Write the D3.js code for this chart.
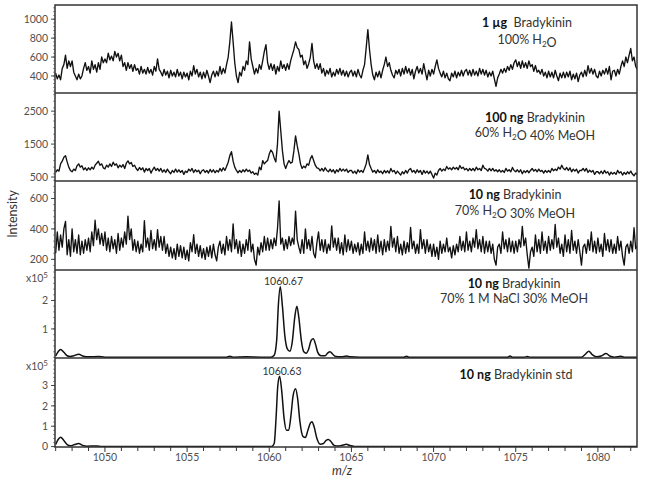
<!DOCTYPE html>
<html>
<head>
<meta charset="utf-8">
<script src="https://cdn.jsdelivr.net/npm/d3@7/dist/d3.min.js"></script>
<style>
  body { margin: 0; background: #fff; }
  svg text { font-family: Lato, "Open Sans", sans-serif; }
</style>
</head>
<body>
<svg id="chart" width="645" height="483"></svg>
<script>
// noisy spectra are sampled on a fixed m/z grid, one row = 1 m/z unit
const mzStart = 1047.0;
const mzStep = 0.1;

// 1 ug, 100% H2O
const water1ug = [
  430, 370, 410, 360, 480, 520, 620, 480, 560, 500,
  560, 440, 400, 360, 420, 370, 400, 480, 540, 460,
  500, 430, 560, 470, 520, 440, 540, 470, 600, 540,
  580, 540, 640, 570, 610, 560, 660, 600, 640, 560,
  620, 500, 540, 460, 540, 480, 520, 450, 520, 460,
  480, 420, 500, 430, 470, 420, 490, 430, 470, 410,
  500, 450, 580, 470, 440, 400, 470, 410, 450, 380,
  460, 400, 440, 390, 470, 400, 440, 370, 440, 390,
  430, 360, 450, 400, 510, 420, 470, 390, 440, 370,
  440, 380, 460, 400, 330, 410, 450, 390, 450, 400,
  500, 420, 480, 430, 520, 600, 760, 970, 760, 540,
  400, 330, 440, 400, 500, 460, 560, 520, 760, 580,
  500, 420, 480, 430, 520, 470, 560, 660, 730, 540,
  470, 530, 460, 520, 420, 500, 450, 560, 480, 520,
  460, 530, 470, 560, 620, 680, 760, 700, 680, 600,
  620, 520, 560, 480, 530, 600, 745, 560, 480, 530,
  470, 530, 430, 480, 400, 460, 420, 480, 390, 440,
  400, 470, 420, 480, 410, 460, 400, 450, 390, 440,
  460, 400, 450, 390, 470, 410, 380, 460, 520, 700,
  890, 680, 520, 410, 360, 440, 390, 450, 380, 460,
  520, 600, 500, 540, 460, 410, 380, 460, 420, 470,
  400, 480, 420, 500, 430, 480, 410, 470, 370, 450,
  500, 430, 480, 420, 530, 440, 360, 460, 400, 470,
  420, 500, 570, 480, 430, 390, 450, 380, 430, 370,
  350, 430, 390, 450, 380, 440, 400, 460, 400, 450,
  470, 410, 460, 400, 470, 410, 450, 400, 480, 420,
  470, 410, 460, 390, 440, 400, 450, 370, 290, 380,
  420, 470, 430, 480, 440, 500, 460, 520, 470, 540,
  570, 500, 550, 480, 560, 490, 540, 480, 560, 500,
  520, 450, 510, 440, 460, 420, 470, 400, 440, 380,
  450, 390, 440, 380, 460, 400, 350, 430, 380, 440,
  380, 440, 390, 450, 360, 420, 370, 430, 340, 410,
  440, 390, 460, 400, 510, 430, 480, 420, 470, 400,
  380, 450, 400, 460, 420, 480, 420, 500, 360, 450,
  460, 400, 470, 420, 500, 560, 500, 600, 540, 620,
  690, 560, 600, 500, 470
];

// 100 ng, 60% H2O 40% MeOH
const meoh100ng = [
  640, 720, 680, 900, 980, 1100, 1150, 960, 800, 700,
  660, 740, 700, 840, 900, 800, 840, 720, 780, 700,
  780, 720, 800, 740, 860, 920, 980, 860, 900, 780,
  750, 860, 800, 900, 820, 950, 860, 900, 780, 860,
  800, 880, 760, 920, 990, 900, 940, 820, 860, 760,
  700, 790, 720, 780, 650, 760, 700, 760, 620, 720,
  800, 700, 760, 680, 760, 650, 720, 640, 740, 660,
  600, 700, 640, 740, 650, 720, 640, 700, 580, 680,
  640, 740, 680, 760, 640, 720, 660, 710, 600, 690,
  720, 640, 700, 620, 730, 650, 720, 630, 700, 650,
  760, 680, 780, 700, 820, 950, 1150, 1270, 980, 800,
  700, 630, 700, 640, 720, 660, 740, 670, 710, 620,
  660, 580, 620, 560, 800, 720, 1000, 900, 960, 1000,
  1200, 1320, 1250, 1080, 960, 1500, 2500, 1900, 1300, 900,
  760, 900, 1000, 920, 950, 1300, 1750, 1450, 1200, 900,
  760, 830, 780, 900, 860, 1050, 1150, 1000, 860, 780,
  760, 690, 760, 680, 780, 700, 660, 740, 660, 720,
  620, 720, 660, 760, 680, 740, 680, 740, 640, 700,
  700, 620, 680, 600, 720, 650, 700, 640, 760, 900,
  1170, 880, 760, 650, 700, 620, 720, 640, 680, 600,
  700, 630, 690, 620, 760, 660, 700, 600, 680, 620,
  560, 660, 600, 700, 620, 720, 760, 650, 700, 620,
  720, 640, 700, 580, 700, 620, 680, 600, 680, 580,
  470, 620, 560, 700, 760, 680, 740, 700, 820, 740,
  780, 720, 800, 740, 790, 720, 850, 760, 800, 720,
  760, 690, 760, 700, 760, 690, 800, 720, 760, 700,
  860, 760, 740, 680, 760, 690, 760, 680, 720, 660,
  720, 650, 700, 640, 760, 680, 720, 660, 790, 700,
  660, 720, 650, 720, 600, 690, 640, 700, 630, 700,
  760, 680, 730, 660, 740, 670, 700, 620, 700, 640,
  700, 640, 760, 690, 740, 700, 800, 740, 860, 760,
  720, 790, 700, 780, 660, 740, 680, 740, 620, 700,
  700, 760, 680, 760, 640, 710, 650, 700, 580, 660,
  660, 600, 680, 600, 700, 620, 660, 560, 650, 590,
  640, 580, 700, 620, 660, 560, 640, 580, 660, 600,
  680, 590, 540, 620, 580
];

// 10 ng, 70% H2O 30% MeOH
const meoh10ng = [
  240, 380, 260, 360, 280, 400, 450, 230, 330, 220,
  400, 250, 330, 240, 360, 230, 320, 240, 330, 260,
  340, 250, 380, 290, 457, 330, 400, 300, 370, 290,
  380, 260, 340, 250, 350, 270, 330, 240, 370, 260,
  340, 280, 380, 300, 484, 330, 400, 260, 330, 250,
  320, 240, 300, 250, 455, 280, 340, 260, 390, 270,
  330, 260, 395, 280, 350, 260, 350, 240, 300, 220,
  280, 210, 270, 200, 300, 220, 290, 210, 280, 200,
  260, 190, 310, 250, 362, 240, 300, 220, 290, 210,
  270, 200, 280, 220, 290, 210, 300, 230, 190, 280,
  320, 240, 300, 230, 350, 260, 330, 250, 433, 270,
  330, 240, 320, 220, 300, 240, 330, 260, 395, 250,
  300, 200, 162, 280, 230, 310, 250, 350, 260, 340,
  260, 330, 270, 340, 290, 400, 584, 300, 340, 260,
  330, 270, 350, 290, 340, 300, 517, 330, 280, 240,
  330, 240, 400, 270, 330, 260, 350, 240, 210, 310,
  380, 260, 330, 250, 330, 240, 300, 260, 420, 280,
  340, 260, 340, 240, 310, 230, 360, 250, 330, 260,
  320, 240, 300, 250, 310, 230, 300, 240, 380, 260,
  320, 250, 340, 260, 330, 240, 360, 250, 320, 230,
  330, 250, 320, 260, 417, 280, 340, 250, 350, 240,
  300, 230, 320, 240, 310, 250, 410, 270, 320, 240,
  300, 240, 395, 270, 330, 240, 330, 250, 300, 220,
  300, 220, 280, 200, 320, 240, 300, 250, 340, 250,
  280, 210, 290, 230, 300, 250, 350, 260, 320, 250,
  380, 260, 320, 250, 340, 280, 395, 270, 330, 250,
  350, 240, 320, 250, 320, 240, 300, 200, 162, 280,
  300, 240, 380, 270, 330, 250, 340, 250, 320, 240,
  320, 250, 330, 280, 417, 290, 340, 230, 142, 250,
  280, 220, 360, 250, 330, 240, 380, 260, 320, 240,
  350, 260, 330, 270, 429, 280, 340, 240, 300, 220,
  360, 250, 330, 240, 390, 260, 320, 240, 330, 250,
  162, 280, 300, 240, 330, 260, 380, 250, 320, 240,
  340, 250, 300, 220, 370, 260, 330, 250, 330, 240,
  300, 240, 350, 260, 320, 220, 162, 280, 300, 240,
  320, 250, 408, 270, 290
];

// 10 ng, 70% 1 M NaCl 30% MeOH  [m/z, intensity x1e5]
const nacl10ng = [
  [1047.0, 0.05], [1047.15, 0.2], [1047.3, 0.28], [1047.5, 0.18], [1047.7, 0.06],
  [1047.9, 0.03], [1048.1, 0.06], [1048.4, 0.11], [1048.7, 0.04], [1049.0, 0.02],
  [1049.6, 0.03], [1050.0, 0.01], [1057.4, 0.01], [1057.6, 0.04], [1057.8, 0.01],
  [1058.6, 0.02], [1059.5, 0.01], [1060.1, 0.01], [1060.3, 0.08], [1060.45, 0.6],
  [1060.55, 1.8], [1060.67, 2.48], [1060.8, 1.8], [1060.95, 0.75], [1061.1, 0.3],
  [1061.25, 0.22], [1061.4, 0.55], [1061.55, 1.4], [1061.68, 1.8], [1061.8, 1.4],
  [1061.95, 0.6], [1062.1, 0.2], [1062.25, 0.15], [1062.4, 0.3], [1062.55, 0.6],
  [1062.68, 0.66], [1062.82, 0.45], [1062.95, 0.18], [1063.15, 0.06], [1063.4, 0.06],
  [1063.55, 0.15], [1063.7, 0.2], [1063.85, 0.12], [1064.05, 0.03], [1064.4, 0.02],
  [1064.7, 0.05], [1064.95, 0.02], [1065.5, 0.01], [1068.2, 0.01], [1068.35, 0.04],
  [1068.5, 0.01], [1074.5, 0.01], [1074.65, 0.05], [1074.8, 0.01], [1075.5, 0.01],
  [1075.7, 0.03], [1075.9, 0.01], [1079.0, 0.01], [1079.25, 0.12], [1079.45, 0.22],
  [1079.65, 0.1], [1079.9, 0.02], [1080.2, 0.05], [1080.5, 0.14], [1080.75, 0.04],
  [1081.0, 0.01], [1081.4, 0.04], [1081.6, 0.01], [1082.4, 0.01]
];

// 10 ng std  [m/z, intensity x1e5]
const std10ng = [
  [1047.0, 0.1], [1047.15, 0.35], [1047.3, 0.46], [1047.5, 0.3], [1047.7, 0.1],
  [1047.9, 0.04], [1048.15, 0.1], [1048.4, 0.15], [1048.65, 0.06], [1048.9, 0.02],
  [1049.5, 0.03], [1049.8, 0.01], [1060.15, 0.01], [1060.3, 0.15], [1060.42, 1.5],
  [1060.52, 3.0], [1060.63, 3.46], [1060.75, 2.8], [1060.9, 1.4], [1061.05, 0.8],
  [1061.18, 0.8], [1061.33, 1.6], [1061.45, 2.5], [1061.6, 2.84], [1061.72, 2.4],
  [1061.87, 1.2], [1062.05, 0.5], [1062.2, 0.45], [1062.35, 0.8], [1062.5, 1.15],
  [1062.6, 1.22], [1062.72, 1.0], [1062.9, 0.4], [1063.1, 0.12], [1063.3, 0.15],
  [1063.45, 0.3], [1063.6, 0.35], [1063.75, 0.25], [1063.95, 0.06], [1064.2, 0.03],
  [1064.5, 0.08], [1064.7, 0.11], [1064.9, 0.05], [1065.2, 0.01], [1082.4, 0.01]
];

const xTicks = [1050, 1055, 1060, 1065, 1070, 1075, 1080];
const yTicks1 = [400, 600, 800, 1000];
const yTicks2 = [500, 1500, 2500];
const yTicks3 = [200, 400, 600];
const yTicks4 = [1, 2];
const yTicks5 = [0, 1, 2, 3];

const peakLabels = ["1060.67", "1060.63"];

const svg = d3.select("#chart");
const left = 55, right = 637;
const panelTops = [5, 93, 181, 270, 358];
const bottom = 447;

const x = d3.scaleLinear().domain([1046.96, 1082.38]).range([left, right]);

function gridPoints(values) {
  return values.map((v, i) => [mzStart + i * mzStep, v]);
}

const panels = [
  { data: gridPoints(water1ug), domain: [220, 1150], ticks: yTicks1, minor: 40, width: 1.35, curve: d3.curveLinear,
    lines: [[{ b: "1 µg", t: "  Bradykinin" }], [{ t: "100% H" }, { sub: "2" }, { t: "O" }]], tx: 527, ty: [27, 43.5] },
  { data: gridPoints(meoh100ng), domain: [380, 3050], ticks: yTicks2, minor: 200, width: 1.35, curve: d3.curveLinear,
    lines: [[{ b: "100 ng", t: " Bradykinin" }], [{ t: "60% H" }, { sub: "2" }, { t: "O 40% MeOH" }]], tx: 535, ty: [122, 137] },
  { data: gridPoints(meoh10ng), domain: [130, 715], ticks: yTicks3, minor: 40, width: 1.35, curve: d3.curveLinear,
    lines: [[{ b: "10 ng", t: " Bradykinin" }], [{ t: "70% H" }, { sub: "2" }, { t: "O 30% MeOH" }]], tx: 515, ty: [199, 215] },
  { data: nacl10ng, domain: [-0.02, 3.07], ticks: yTicks4, minor: 0.2, width: 1.5, curve: d3.curveMonotoneX, exp: true,
    lines: [[{ b: "10 ng", t: " Bradykinin" }], [{ t: "70% 1 M NaCl 30% MeOH" }]], tx: 514, ty: [288, 303],
    peak: { text: peakLabels[0], x: 283.5, y: 285 } },
  { data: std10ng, domain: [-0.02, 4.35], ticks: yTicks5, minor: 0.2, width: 1.5, curve: d3.curveMonotoneX, exp: true,
    lines: [[{ b: "10 ng", t: " Bradykinin std" }]], tx: 516, ty: [379],
    peak: { text: peakLabels[1], x: 282, y: 375 } }
];

panels.forEach((p, k) => {
  const top = panelTops[k];
  const bot = k < 4 ? panelTops[k + 1] : bottom;
  const y = d3.scaleLinear().domain(p.domain).range([bot, top]);

  svg.append("clipPath").attr("id", "clip" + k)
    .append("rect").attr("x", left).attr("y", top).attr("width", right - left).attr("height", bot - top);

  // minor y ticks
  const minorTicks = d3.range(Math.ceil(p.domain[0] / p.minor) * p.minor, p.domain[1], p.minor);
  svg.append("g").selectAll("line").data(minorTicks).join("line")
    .attr("x1", left - 2).attr("x2", left)
    .attr("y1", d => y(d)).attr("y2", d => y(d))
    .attr("stroke", "#555").attr("stroke-width", 0.6);

  // major y ticks + labels
  const g = svg.append("g");
  g.selectAll("line").data(p.ticks).join("line")
    .attr("x1", left - 4).attr("x2", left)
    .attr("y1", d => y(d)).attr("y2", d => y(d))
    .attr("stroke", "#333").attr("stroke-width", 0.9);
  g.selectAll("text").data(p.ticks).join("text")
    .attr("x", left - 7).attr("y", d => y(d)).attr("dy", "0.35em")
    .attr("text-anchor", "end").attr("font-size", 10.5).attr("fill", "#505050")
    .text(d => d);

  if (p.exp) {
    const e = svg.append("text").attr("x", 48).attr("y", top + 12)
      .attr("text-anchor", "end").attr("font-size", 10.5).attr("fill", "#505050");
    e.append("tspan").text("x10");
    e.append("tspan").attr("dy", -4).attr("font-size", 8).text("5");
  }

  const line = d3.line().x(d => x(d[0])).y(d => y(d[1])).curve(p.curve);
  svg.append("path").datum(p.data)
    .attr("clip-path", "url(#clip" + k + ")")
    .attr("fill", "none").attr("stroke", "#111")
    .attr("stroke-width", p.width).attr("stroke-linejoin", "round")
    .attr("d", line);

  // panel annotation
  p.lines.forEach((parts, j) => {
    const t = svg.append("text").attr("x", p.tx).attr("y", p.ty[j])
      .attr("text-anchor", "middle").attr("font-size", 12.5).attr("fill", "#333")
      .attr("xml:space", "preserve");
    parts.forEach(part => {
      if (part.b) t.append("tspan").attr("font-weight", "bold").attr("fill", "#111").text(part.b);
      if (part.t) t.append("tspan").text(part.t);
      if (part.sub) {
        t.append("tspan").attr("font-size", 8).attr("dy", 3).text(part.sub);
        t.append("tspan").attr("dy", -3).text("");
      }
    });
  });

  if (p.peak) {
    svg.append("text").attr("x", p.peak.x).attr("y", p.peak.y)
      .attr("text-anchor", "middle").attr("font-size", 10.5).attr("fill", "#333")
      .text(p.peak.text);
  }

  // panel separator
  if (k > 0) {
    svg.append("line").attr("x1", left).attr("x2", right).attr("y1", top).attr("y2", top)
      .attr("stroke", "#333").attr("stroke-width", 1.5);
  }
});

// outer frame
svg.append("rect").attr("x", left).attr("y", panelTops[0])
  .attr("width", right - left).attr("height", bottom - panelTops[0])
  .attr("fill", "none").attr("stroke", "#333").attr("stroke-width", 1.5);

// x axis
const xMinor = d3.range(1047, 1083, 1);
svg.append("g").selectAll("line").data(xMinor).join("line")
  .attr("x1", d => x(d)).attr("x2", d => x(d))
  .attr("y1", bottom).attr("y2", d => bottom + (d % 5 === 0 ? 5 : 4))
  .attr("stroke", "#333").attr("stroke-width", 1);
svg.append("g").selectAll("text").data(xTicks).join("text")
  .attr("x", d => x(d)).attr("y", 461)
  .attr("text-anchor", "middle").attr("font-size", 10.5).attr("fill", "#505050")
  .text(d => d);

svg.append("text").attr("x", 342).attr("y", 475)
  .attr("text-anchor", "middle").attr("font-size", 12.5).attr("font-style", "italic")
  .attr("fill", "#333").text("m/z");

svg.append("text").attr("transform", "translate(17,214) rotate(-90)")
  .attr("text-anchor", "middle").attr("font-size", 12.5).attr("fill", "#333")
  .text("Intensity");
</script>
</body>
</html>
